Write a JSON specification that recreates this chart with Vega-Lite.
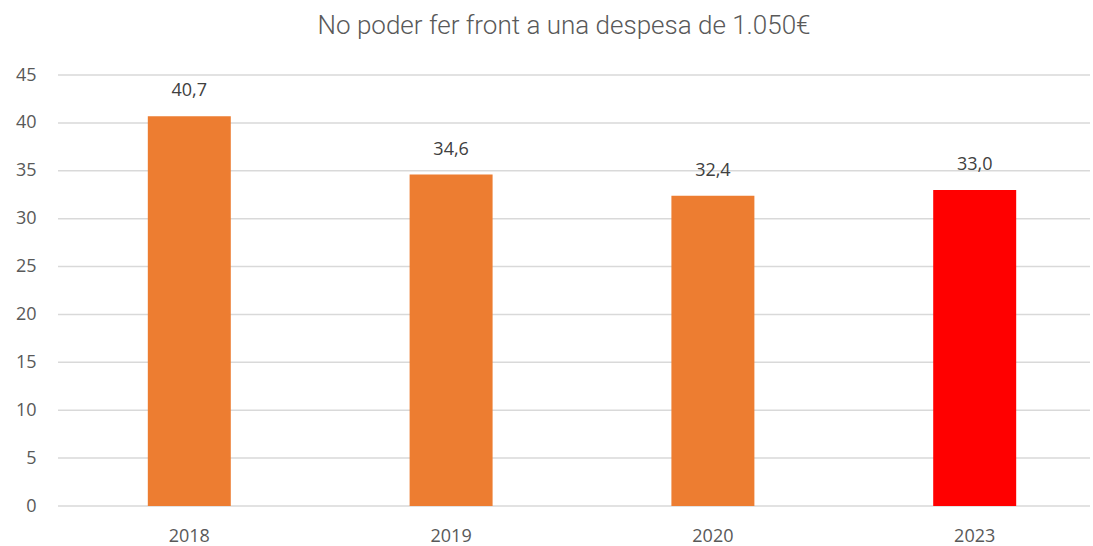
{
  "$schema": "https://vega.github.io/schema/vega-lite/v6.json",
  "autosize": {"type": "none"},
  "padding": {"left": 58, "top": 75, "right": 3, "bottom": 40},
  "width": 1032,
  "height": 431,
  "background": "white",
  "title": {
    "text": "No poder fer front a una despesa de 1.050€",
    "font": "Roboto",
    "fontSize": 26,
    "fontWeight": 300,
    "color": "#595959",
    "anchor": "middle",
    "offset": 27,
    "dx": -10
  },
  "datasets": {
    "bars": [
      {"year": "2018", "value": 40.7, "label": "40,7", "highlight": "no"},
      {"year": "2019", "value": 34.6, "label": "34,6", "highlight": "no"},
      {"year": "2020", "value": 32.4, "label": "32,4", "highlight": "no"},
      {"year": "2023", "value": 33.0, "label": "33,0", "highlight": "yes"}
    ],
    "grid": [
      {"tick": 0}, {"tick": 5}, {"tick": 10}, {"tick": 15}, {"tick": 20},
      {"tick": 25}, {"tick": 30}, {"tick": 35}, {"tick": 40}, {"tick": 45}
    ]
  },
  "config": {
    "view": {"stroke": null},
    "font": "Open Sans"
  },
  "layer": [
    {
      "data": {"name": "grid"},
      "mark": {"type": "rule", "color": "#d9d9d9", "strokeWidth": 1.5},
      "encoding": {
        "y": {
          "field": "tick",
          "type": "quantitative",
          "scale": {"domain": [0, 45], "nice": false},
          "axis": {
            "title": null,
            "values": [0, 5, 10, 15, 20, 25, 30, 35, 40, 45],
            "ticks": false,
            "domain": false,
            "grid": false,
            "labelPadding": 22,
            "labelFontSize": 18,
            "labelColor": "#595959",
            "labelFont": "Open Sans"
          }
        }
      }
    },
    {
      "data": {"name": "bars"},
      "encoding": {
        "x": {
          "field": "year",
          "type": "nominal",
          "sort": null,
          "scale": {"paddingInner": 0.683, "paddingOuter": 0.3125, "range": [8, 1040]},
          "axis": {
            "title": null,
            "labelAngle": 0,
            "ticks": false,
            "domain": false,
            "grid": false,
            "labelPadding": 21,
            "labelFontSize": 18,
            "labelColor": "#595959",
            "labelFont": "Open Sans"
          }
        },
        "y": {
          "field": "value",
          "type": "quantitative"
        }
      },
      "layer": [
        {
          "mark": {"type": "bar"},
          "encoding": {
            "color": {
              "field": "highlight",
              "type": "nominal",
              "scale": {"domain": ["no", "yes"], "range": ["#ED7D31", "#FF0000"]},
              "legend": null
            }
          }
        },
        {
          "mark": {"type": "text", "dy": -25, "fontSize": 18, "color": "#404040", "font": "Open Sans"},
          "encoding": {
            "text": {"field": "label"}
          }
        }
      ]
    }
  ]
}
